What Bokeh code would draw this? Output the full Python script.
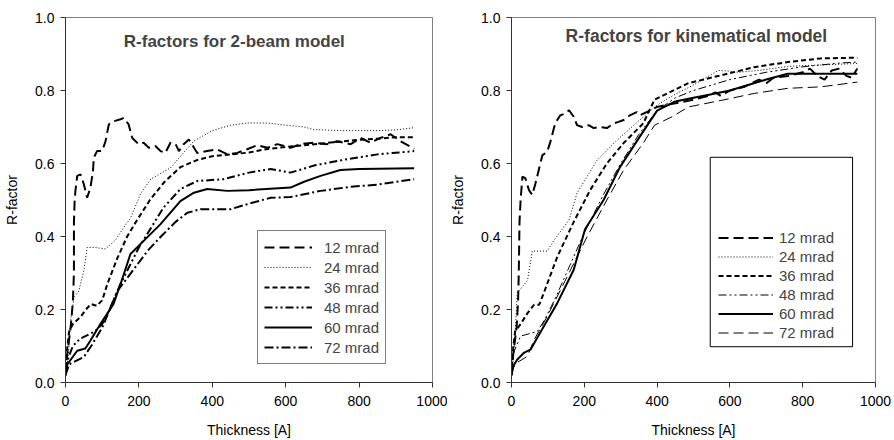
from bokeh.plotting import figure
from bokeh.layouts import row
from bokeh.models import Range1d, Legend, LegendItem, Label, BoxAnnotation, PrintfTickFormatter, FixedTicker
from bokeh.embed import file_html
from bokeh.resources import INLINE

FONT = "Liberation Sans"

# ---------------- data: 2-beam model ----------------
L_x12 = [0, 5, 14, 20, 23, 23, 25, 27, 32, 41, 50, 59, 68, 75, 77, 86, 100, 109, 118, 132, 150, 159, 172, 182, 199, 213, 227, 245, 259, 272, 286, 300, 309, 322, 336, 359, 386, 413, 441, 468, 495, 522, 550, 577, 613, 641, 677, 713, 740, 777, 804, 831, 858, 886, 913, 950]
L_y12 = [0.02, 0.08, 0.15, 0.22, 0.30, 0.44, 0.50, 0.525, 0.566, 0.57, 0.543, 0.506, 0.534, 0.58, 0.616, 0.634, 0.634, 0.661, 0.707, 0.716, 0.721, 0.725, 0.707, 0.67, 0.653, 0.657, 0.643, 0.648, 0.634, 0.629, 0.657, 0.653, 0.634, 0.653, 0.666, 0.629, 0.634, 0.639, 0.625, 0.629, 0.639, 0.65, 0.643, 0.653, 0.643, 0.653, 0.657, 0.653, 0.661, 0.653, 0.67, 0.657, 0.67, 0.68, 0.661, 0.64]
L_x24 = [0, 8, 14, 23, 36, 50, 59, 80, 109, 136, 159, 177, 204, 232, 286, 349, 400, 450, 495, 550, 600, 650, 677, 750, 800, 850, 900, 950]
L_y24 = [0.015, 0.08, 0.17, 0.233, 0.25, 0.306, 0.37, 0.37, 0.366, 0.39, 0.425, 0.45, 0.516, 0.557, 0.588, 0.661, 0.69, 0.705, 0.711, 0.711, 0.705, 0.70, 0.693, 0.69, 0.69, 0.69, 0.692, 0.698]
L_x36 = [0, 5, 10, 20, 41, 60, 70, 85, 100, 114, 141, 168, 195, 230, 270, 313, 360, 400, 450, 500, 550, 600, 650, 700, 750, 800, 850, 900, 950]
L_y36 = [0.02, 0.10, 0.14, 0.16, 0.18, 0.205, 0.215, 0.21, 0.225, 0.27, 0.34, 0.40, 0.445, 0.50, 0.55, 0.59, 0.61, 0.62, 0.625, 0.63, 0.64, 0.645, 0.65, 0.655, 0.66, 0.665, 0.668, 0.672, 0.672]
L_x48 = [0, 5, 20, 40, 60, 80, 100, 120, 150, 200, 267, 313, 359, 431, 500, 559, 613, 680, 768, 850, 950]
L_y48 = [0.02, 0.06, 0.10, 0.12, 0.13, 0.14, 0.16, 0.20, 0.27, 0.37, 0.479, 0.53, 0.552, 0.557, 0.575, 0.585, 0.575, 0.595, 0.612, 0.625, 0.634]
L_x60 = [0, 5, 32, 54, 68, 95, 131, 150, 177, 213, 259, 313, 350, 386, 441, 500, 613, 650, 695, 749, 800, 950]
L_y60 = [0.02, 0.05, 0.087, 0.093, 0.115, 0.16, 0.215, 0.27, 0.352, 0.388, 0.434, 0.497, 0.52, 0.53, 0.525, 0.527, 0.534, 0.55, 0.566, 0.582, 0.585, 0.587]
L_x72 = [0, 10, 30, 50, 70, 100, 141, 186, 223, 260, 300, 332, 368, 450, 500, 559, 613, 695, 776, 850, 950]
L_y72 = [0.02, 0.05, 0.06, 0.07, 0.10, 0.15, 0.25, 0.31, 0.36, 0.40, 0.44, 0.465, 0.475, 0.475, 0.49, 0.506, 0.508, 0.525, 0.536, 0.542, 0.557]

# ---------------- data: kinematical model ----------------
R_x12 = [0, 5, 14, 18, 20, 22, 25, 30, 38, 48, 57, 66, 76, 85, 98, 107, 120, 134, 148, 158, 171, 180, 194, 212, 226, 243, 262, 281, 294, 308, 325, 344, 353, 380, 400, 450, 500, 540, 560, 575, 600, 640, 680, 700, 720, 760, 800, 820, 840, 860, 880, 900, 920, 935, 950]
R_y12 = [0.02, 0.08, 0.15, 0.22, 0.30, 0.44, 0.50, 0.564, 0.56, 0.527, 0.514, 0.546, 0.587, 0.623, 0.632, 0.66, 0.71, 0.732, 0.737, 0.746, 0.728, 0.705, 0.70, 0.705, 0.697, 0.70, 0.697, 0.71, 0.714, 0.719, 0.732, 0.741, 0.732, 0.745, 0.755, 0.765, 0.775, 0.785, 0.795, 0.785, 0.80, 0.81, 0.83, 0.82, 0.835, 0.84, 0.85, 0.86, 0.84, 0.83, 0.855, 0.86, 0.84, 0.835, 0.86]
R_x24 = [0, 8, 16, 44, 57, 98, 117, 158, 180, 235, 290, 352, 400, 450, 500, 568, 600, 623, 680, 759, 850, 950]
R_y24 = [0.015, 0.10, 0.246, 0.28, 0.36, 0.36, 0.39, 0.445, 0.519, 0.609, 0.664, 0.719, 0.76, 0.79, 0.815, 0.855, 0.853, 0.85, 0.855, 0.866, 0.87, 0.874]
R_x36 = [0, 5, 10, 25, 44, 62, 76, 89, 126, 171, 216, 262, 308, 362, 393, 486, 577, 667, 759, 850, 950]
R_y36 = [0.02, 0.10, 0.14, 0.16, 0.19, 0.213, 0.213, 0.246, 0.345, 0.44, 0.527, 0.60, 0.656, 0.71, 0.775, 0.82, 0.842, 0.864, 0.878, 0.888, 0.89]
R_x48 = [0, 5, 25, 71, 90, 120, 160, 200, 250, 300, 350, 400, 450, 500, 600, 700, 800, 900, 950]
R_y48 = [0.02, 0.08, 0.127, 0.14, 0.17, 0.23, 0.32, 0.41, 0.51, 0.60, 0.68, 0.745, 0.78, 0.80, 0.83, 0.85, 0.865, 0.875, 0.878]
R_x60 = [0, 5, 16, 35, 52, 79, 126, 171, 202, 253, 298, 352, 400, 450, 500, 550, 600, 650, 700, 759, 800, 950]
R_y60 = [0.02, 0.045, 0.063, 0.082, 0.09, 0.137, 0.218, 0.309, 0.42, 0.50, 0.59, 0.673, 0.745, 0.77, 0.78, 0.79, 0.80, 0.815, 0.83, 0.846, 0.846, 0.846]
R_x72 = [0, 5, 16, 44, 62, 98, 153, 208, 262, 308, 362, 393, 441, 486, 577, 667, 759, 850, 950]
R_y72 = [0.02, 0.04, 0.055, 0.072, 0.117, 0.181, 0.29, 0.40, 0.50, 0.582, 0.656, 0.705, 0.728, 0.755, 0.773, 0.792, 0.806, 0.81, 0.823]

labels = ["12 mrad", "24 mrad", "36 mrad", "48 mrad", "60 mrad", "72 mrad"]
x_ticks = [0, 200, 400, 600, 800, 1000]
y_ticks = [0.0, 0.2, 0.4, 0.6, 0.8, 1.0]

LONG = "10 5"
DOT = "1 2"
SHORT = "5 3"
DDOT = "8 3 2 3 2 3"
DDASH = "9 3 2 3"

left_styles = [(LONG, 2), (DOT, 1), (SHORT, 2), (DDOT, 2), ("solid", 2), (DDASH, 2)]
right_styles = [(LONG, 2), (DOT, 1), (SHORT, 2), (DDOT, 1), ("solid", 2), (LONG, 1)]


def make_fig(bl, br, bt, bb):
    p = figure(width=447, height=440, x_range=Range1d(0, 1000), y_range=Range1d(0, 1),
               output_backend="svg", toolbar_location=None,
               min_border_left=bl, min_border_right=br, min_border_top=bt, min_border_bottom=bb)
    p.xgrid.visible = False
    p.ygrid.visible = False
    p.outline_line_color = "#808080"
    p.outline_line_width = 1
    p.background_fill_color = "white"
    p.border_fill_color = "white"
    for ax in (p.xaxis[0], p.yaxis[0]):
        ax.axis_line_color = "#333333"
        ax.major_tick_line_color = "#333333"
        ax.major_tick_out = 5
        ax.major_tick_in = 0
        ax.minor_tick_line_color = None
        ax.major_label_text_font = FONT
        ax.major_label_text_font_size = "14px"
        ax.major_label_text_color = "black"
        ax.axis_label_text_font = FONT
        ax.axis_label_text_font_size = "14px"
        ax.axis_label_text_font_style = "normal"
        ax.axis_label_text_color = "black"
    p.xaxis.ticker = FixedTicker(ticks=x_ticks)
    p.yaxis.ticker = FixedTicker(ticks=y_ticks)
    p.yaxis.formatter = PrintfTickFormatter(format="%.1f")
    p.xaxis.axis_label = "Thickness [A]"
    p.yaxis.axis_label = "R-factor"
    p.xaxis.major_label_standoff = 8
    p.xaxis.axis_label_standoff = 13
    p.yaxis.major_label_standoff = 6
    p.yaxis.axis_label_standoff = 12
    return p


# ---------- left figure ----------
p1 = make_fig(65, 15, 16, 58)
left_data = [(L_x12, L_y12), (L_x24, L_y24), (L_x36, L_y36), (L_x48, L_y48), (L_x60, L_y60), (L_x72, L_y72)]
items1 = []
for (xs, ys), (dash, w), lab in zip(left_data, left_styles, labels):
    r = p1.line(xs, ys, line_color="black", line_width=w, line_dash=dash)
    items1.append(LegendItem(label=lab, renderers=[r]))
leg1 = Legend(items=items1, location=(192, 18), border_line_color="black", border_line_width=1,
              background_fill_color="white", background_fill_alpha=1, padding=6, spacing=0, margin=0,
              label_text_font=FONT, label_text_font_size="15px", glyph_width=48, glyph_height=20,
              label_height=20, label_standoff=12)
p1.add_layout(leg1, "center")
p1.add_layout(Label(x=460, y=0.935, text="R-factors for 2-beam model", text_align="center",
                    text_baseline="middle", text_font=FONT, text_font_style="bold", text_font_size="17px"))

# ---------- right figure ----------
p2 = make_fig(62, 19, 17, 57)
p2.add_layout(BoxAnnotation(left=546, right=937, bottom=0.098, top=0.617, fill_color="white",
                            fill_alpha=1, line_color="black", line_width=1, line_alpha=1))
right_data = [(R_x12, R_y12), (R_x24, R_y24), (R_x36, R_y36), (R_x48, R_y48), (R_x60, R_y60), (R_x72, R_y72)]
items2 = []
for (xs, ys), (dash, w), lab in zip(right_data, right_styles, labels):
    r = p2.line(xs, ys, line_color="black", line_width=w, line_dash=dash)
    items2.append(LegendItem(label=lab, renderers=[r]))
leg2 = Legend(items=items2, location=(203, 36), border_line_alpha=0, background_fill_alpha=0,
              padding=4, spacing=0, margin=0,
              label_text_font=FONT, label_text_font_size="15px", glyph_width=55, glyph_height=19,
              label_height=19, label_standoff=6)
p2.add_layout(leg2, "center")
p2.add_layout(Label(x=508, y=0.948, text="R-factors for kinematical model", text_align="center",
                    text_baseline="middle", text_font=FONT, text_font_style="bold", text_font_size="17.5px"))

layout = row(p1, p2)
open("out.html", "w").write(file_html(layout, INLINE))
